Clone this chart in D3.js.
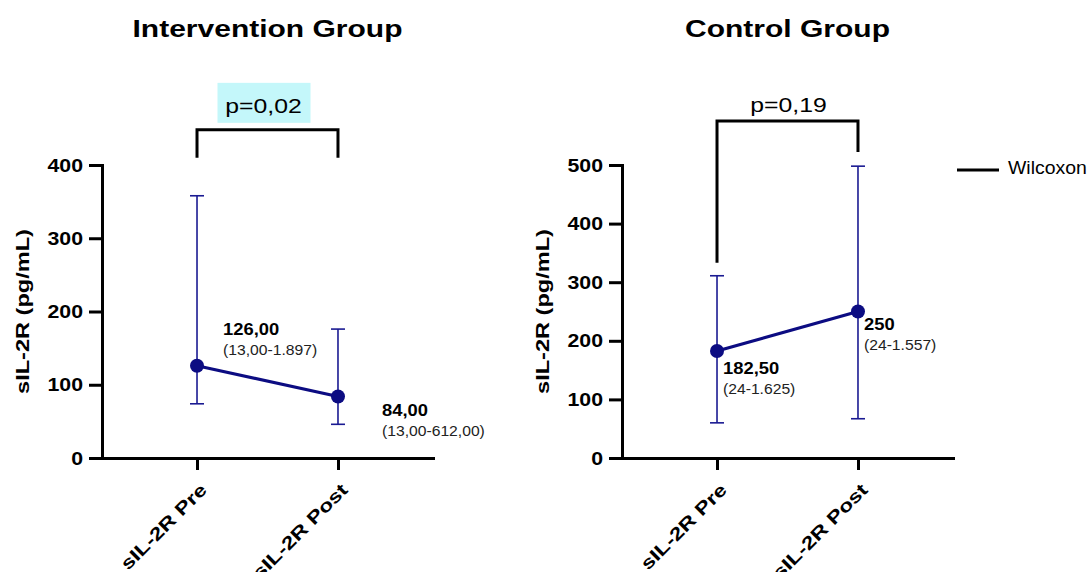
<!DOCTYPE html>
<html>
<head>
<meta charset="utf-8">
<script src="https://cdn.jsdelivr.net/npm/d3@7"></script>
<style>
  body { margin: 0; background: #fff; }
  svg text { font-family: "Liberation Sans", Arial, sans-serif; fill: #000; }
</style>
</head>
<body>
<svg id="chart" width="1089" height="572"></svg>
<script>
// data
var groups = ["Intervention Group", "Control Group"];
var categories = ["sIL-2R Pre", "sIL-2R Post"];
var yMax = [400, 500];
var intMedian = [126, 84];
var intLow = [74, 46];
var intHigh = [358, 176];
var ctrlMedian = [182.5, 250];
var ctrlLow = [60, 67];
var ctrlHigh = [311, 498];
var intMedianText = ["126,00", "84,00"];
var intRangeText = ["(13,00-1.897)", "(13,00-612,00)"];
var ctrlMedianText = ["182,50", "250"];
var ctrlRangeText = ["(24-1.625)", "(24-1.557)"];
var pValues = ["p=0,02", "p=0,19"];
var legendLabel = "Wilcoxon";

var svg = d3.select("#chart");
var navy = "#0c0c82";
var barColor = "#1a1a92";

// stretch text along its own direction (the original font is wider than Arial)
function widen(sel, k) {
  sel.each(function() {
    var w = this.getComputedTextLength();
    d3.select(this).attr("textLength", w * k).attr("lengthAdjust", "spacingAndGlyphs");
  });
}

var panels = [
  { left: 102, title: groups[0], ymax: yMax[0], med: intMedian, lo: intLow, hi: intHigh,
    medText: intMedianText, rangeText: intRangeText, p: pValues[0], highlight: true,
    bracketTop: 448, legs: [410, 410],
    labelOff: [[26, -31], [44, 20]] },
  { left: 622, title: groups[1], ymax: yMax[1], med: ctrlMedian, lo: ctrlLow, hi: ctrlHigh,
    medText: ctrlMedianText, rangeText: ctrlRangeText, p: pValues[1], highlight: false,
    bracketTop: 575, legs: [333, 522],
    labelOff: [[6, 23], [6, 18]] }
];

var plotTop = 165, plotBottom = 458, plotW = 331;

panels.forEach(function(pn) {
  var g = svg.append("g");
  var x = d3.scalePoint().domain(categories).range([pn.left, pn.left + plotW]).padding(0.674);
  var y = d3.scaleLinear().domain([0, pn.ymax]).range([plotBottom, plotTop]);

  // title
  g.append("text")
    .attr("x", pn.left + plotW / 2).attr("y", 37)
    .attr("text-anchor", "middle")
    .style("font-size", "24px").style("font-weight", "bold")
    .text(pn.title)
    .call(widen, 1.25);

  // y axis
  var yAxis = g.append("g")
    .attr("transform", "translate(" + pn.left + ",0)")
    .call(d3.axisLeft(y).tickValues(d3.range(0, pn.ymax + 1, 100)).tickSize(13).tickSizeOuter(0).tickPadding(6));
  yAxis.select(".domain").attr("stroke-width", 3).attr("stroke-linecap", "square");
  yAxis.selectAll(".tick line").attr("stroke-width", 3);
  yAxis.selectAll(".tick text")
    .style("font-size", "19px").style("font-weight", "bold")
    .call(widen, 1.12);

  // x axis
  var xAxis = g.append("g")
    .attr("transform", "translate(0," + plotBottom + ")")
    .call(d3.axisBottom(x).tickSize(12).tickSizeOuter(0));
  xAxis.select(".domain").attr("stroke-width", 3).attr("stroke-linecap", "square");
  xAxis.selectAll(".tick line").attr("stroke-width", 3);
  xAxis.selectAll(".tick text").remove();
  g.selectAll(".xlab")
    .data(categories)
    .enter().append("text")
    .attr("class", "xlab")
    .attr("transform", function(d) { return "translate(" + (x(d) + 11) + ",491) rotate(-45)"; })
    .attr("text-anchor", "end")
    .style("font-size", "18px").style("font-weight", "bold")
    .text(function(d) { return d; })
    .call(widen, 1.27);

  // y axis title
  g.append("text")
    .attr("transform", "translate(" + (pn.left - 73) + "," + ((plotTop + plotBottom) / 2) + ") rotate(-90)")
    .attr("text-anchor", "middle")
    .style("font-size", "19px").style("font-weight", "bold")
    .text("sIL-2R (pg/mL)")
    .call(widen, 1.24);

  // error bars
  var capW = 7;
  var eb = g.selectAll(".eb").data(categories).enter().append("g").attr("class", "eb")
    .attr("stroke", barColor).attr("stroke-width", 1.6);
  eb.append("line")
    .attr("x1", function(d) { return x(d); }).attr("x2", function(d) { return x(d); })
    .attr("y1", function(d, i) { return y(pn.lo[i]); })
    .attr("y2", function(d, i) { return y(pn.hi[i]); });
  eb.append("line")
    .attr("x1", function(d) { return x(d) - capW; }).attr("x2", function(d) { return x(d) + capW; })
    .attr("y1", function(d, i) { return y(pn.hi[i]); }).attr("y2", function(d, i) { return y(pn.hi[i]); });
  eb.append("line")
    .attr("x1", function(d) { return x(d) - capW; }).attr("x2", function(d) { return x(d) + capW; })
    .attr("y1", function(d, i) { return y(pn.lo[i]); }).attr("y2", function(d, i) { return y(pn.lo[i]); });

  // median line + points
  var line = d3.line()
    .x(function(d, i) { return x(categories[i]); })
    .y(function(d) { return y(d); });
  g.append("path")
    .datum(pn.med)
    .attr("d", line)
    .attr("fill", "none").attr("stroke", navy).attr("stroke-width", 3.2);
  g.selectAll(".pt").data(pn.med).enter().append("circle")
    .attr("cx", function(d, i) { return x(categories[i]); })
    .attr("cy", function(d) { return y(d); })
    .attr("r", 7).attr("fill", navy);

  // value labels
  categories.forEach(function(c, i) {
    var lx = x(c) + pn.labelOff[i][0], ly = y(pn.med[i]) + pn.labelOff[i][1];
    g.append("text").attr("x", lx).attr("y", ly)
      .style("font-size", "17px").style("font-weight", "bold")
      .text(pn.medText[i])
      .call(widen, 1.08);
    g.append("text").attr("x", lx).attr("y", ly + 20)
      .style("font-size", "14px").style("fill", "#222")
      .text(pn.rangeText[i])
      .call(widen, 1.12);
  });

  // significance bracket
  var bx0 = x(categories[0]), bx1 = x(categories[1]);
  var byTop = y(pn.bracketTop);
  g.append("path")
    .attr("d", "M" + bx0 + "," + y(pn.legs[0]) + "V" + byTop + "H" + bx1 + "V" + y(pn.legs[1]))
    .attr("fill", "none").attr("stroke", "#000").attr("stroke-width", 3);
  var pcx = (bx0 + bx1) / 2 + (pn.highlight ? -4 : 1);
  if (pn.highlight) {
    g.append("rect")
      .attr("x", pcx - 46).attr("y", byTop - 47)
      .attr("width", 93).attr("height", 40)
      .attr("fill", "#c4f7fa");
  }
  g.append("text")
    .attr("x", pcx).attr("y", byTop - (pn.highlight ? 17 : 9))
    .attr("text-anchor", "middle")
    .style("font-size", "21px")
    .text(pn.p)
    .call(widen, 1.18);
});

// legend
svg.append("line")
  .attr("x1", 957).attr("x2", 999).attr("y1", 170).attr("y2", 170)
  .attr("stroke", "#000").attr("stroke-width", 3);
svg.append("text")
  .attr("x", 1008).attr("y", 174)
  .style("font-size", "18px")
  .text(legendLabel)
  .call(widen, 1.08);
</script>
</body>
</html>
